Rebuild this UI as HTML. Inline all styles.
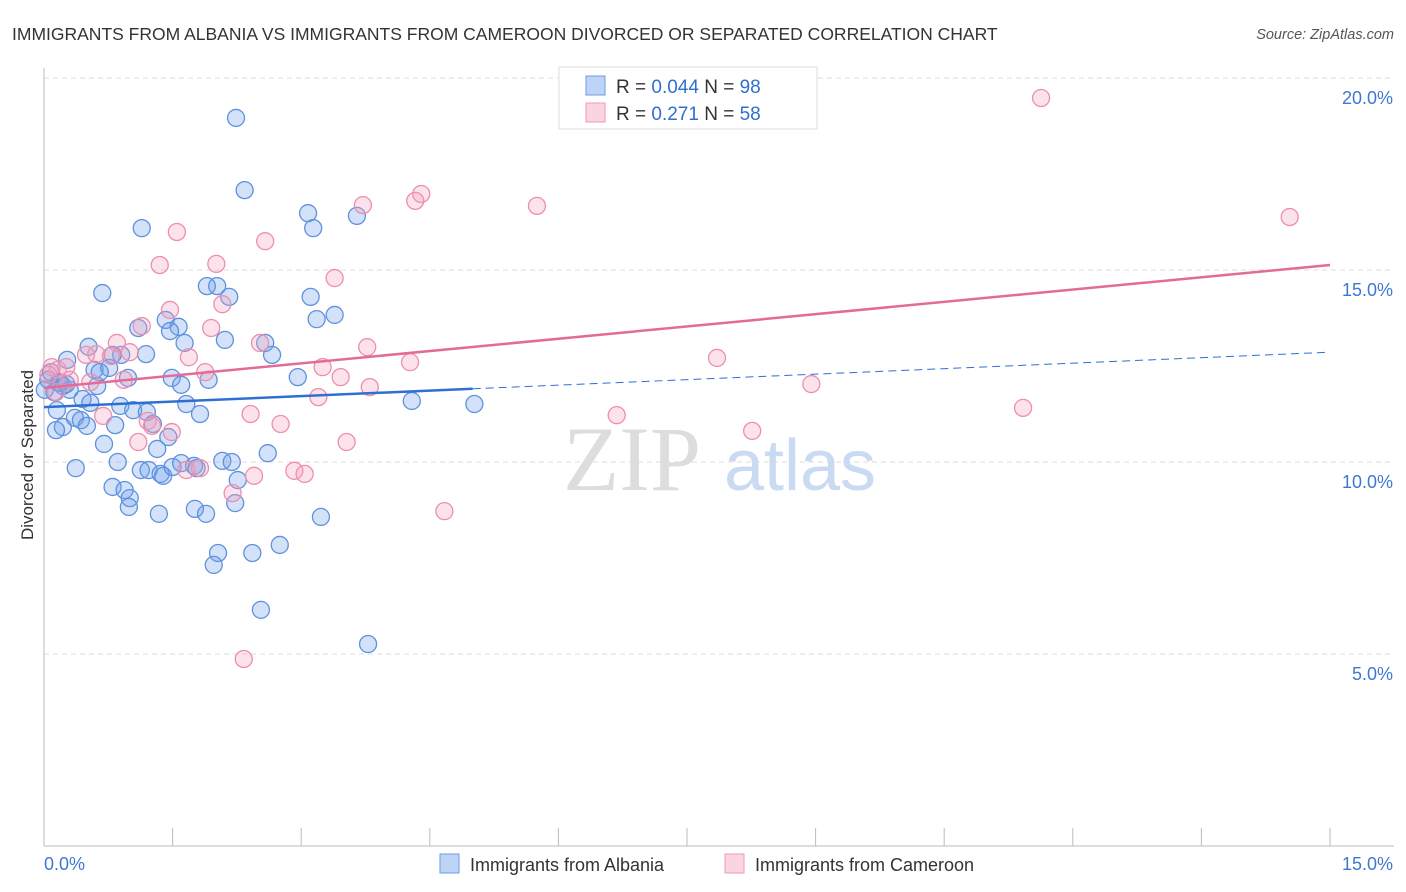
<!DOCTYPE html>
<html><head><meta charset="utf-8"><style>
body{margin:0;background:#fff;font-family:"Liberation Sans",sans-serif}
svg{display:block}
</style></head><body>
<svg id="chart" width="1406" height="892">
<text x="12" y="40" font-size="17.5" fill="#333">IMMIGRANTS FROM ALBANIA VS IMMIGRANTS FROM CAMEROON DIVORCED OR SEPARATED CORRELATION CHART</text>
<text x="1394" y="39" font-size="14.5" fill="#555" font-style="italic" text-anchor="end">Source: ZipAtlas.com</text>
<g id="grid"></g>
<g><text x="632" y="490" font-size="92" fill="#ddd" font-family="Liberation Serif,serif" text-anchor="middle">ZIP</text><text x="800" y="490" font-size="72" fill="#c9daf2" text-anchor="middle">atlas</text></g>
<g id="axes"></g>
<g id="pts"></g>
<g id="lines"></g>
<text transform="translate(33,455) rotate(-90)" font-size="17" fill="#333" text-anchor="middle">Divorced or Separated</text>
<g>
<rect x="559" y="67" width="258" height="62" fill="#fff" stroke="#ddd"/>
<rect x="586" y="76" width="19" height="19" fill="rgba(110,160,235,0.45)" stroke="#6d9be0"/>
<rect x="586" y="103" width="19" height="19" fill="rgba(245,160,190,0.45)" stroke="#ee9ab5"/>
<text x="616" y="93" font-size="19" fill="#333">R = <tspan fill="#2f6fd0">0.044</tspan>   N = <tspan fill="#2f6fd0">98</tspan></text>
<text x="616" y="120" font-size="19" fill="#333">R =  <tspan fill="#2f6fd0">0.271</tspan>   N = <tspan fill="#2f6fd0">58</tspan></text>
</g>
<g>
<rect x="440" y="854" width="19" height="19" fill="rgba(110,160,235,0.45)" stroke="#6d9be0"/>
<text x="470" y="871" font-size="18" fill="#333">Immigrants from Albania</text>
<rect x="725" y="854" width="19" height="19" fill="rgba(245,160,190,0.45)" stroke="#ee9ab5"/>
<text x="755" y="871" font-size="18" fill="#333">Immigrants from Cameroon</text>
</g>
</svg>
<script>
const xTicks=[0,1.5,3,4.5,6,7.5,9,10.5,12,13.5,15];
const yTicks=[5,10,15,20];
const yTickLabels=["5.0%","10.0%","15.0%","20.0%"];
const xEndLabels=["0.0%","15.0%"];
const albaniaX=[2.24,2.34,1.14,3.08,3.14,3.65,0.68,1.90,2.02,2.16,3.11,3.39,3.18,1.42,1.10,1.57,1.47,1.64,2.11,2.58,2.66,0.52,1.19,0.27,0.90,0.59,0.76,0.98,1.49,1.60,1.92,2.96,0.17,0.22,0.30,0.12,0.62,0.45,0.54,4.29,5.02,0.89,1.04,1.20,1.66,1.82,0.15,0.36,0.43,0.22,0.14,0.83,0.50,1.27,1.45,0.70,1.32,2.61,0.37,0.86,1.13,1.22,1.36,1.39,1.50,1.60,1.75,1.78,2.08,2.19,0.80,0.94,1.00,0.99,2.26,1.34,1.76,1.89,2.23,3.23,2.03,1.98,2.43,2.75,2.53,3.78,0.08,0.05,0.19,0.26,0.01,0.65,0.80];
const albaniaY=[18.96,17.08,16.09,16.48,16.09,16.41,14.40,14.58,14.58,14.30,14.30,13.83,13.72,13.70,13.49,13.52,13.41,13.10,13.18,13.10,12.79,13.00,12.81,12.66,12.79,12.40,12.45,12.19,12.19,12.01,12.14,12.21,12.06,11.98,11.88,11.82,11.98,11.64,11.54,11.59,11.51,11.46,11.35,11.30,11.51,11.25,11.35,11.15,11.09,10.91,10.83,10.96,10.94,10.99,10.65,10.47,10.34,10.23,9.84,10.00,9.79,9.79,9.69,9.64,9.87,9.97,9.90,9.84,10.03,10.00,9.35,9.27,9.06,8.83,9.53,8.65,8.78,8.65,8.93,8.57,7.63,7.32,7.63,7.84,6.15,5.26,12.34,12.14,12.06,12.03,11.88,12.34,12.79];
const cameroonX=[11.63,14.53,4.40,4.33,5.75,3.72,1.55,2.58,1.35,2.01,3.39,1.47,2.08,1.14,1.95,0.85,1.00,2.52,3.77,1.69,0.49,0.78,4.27,7.85,1.88,3.25,3.46,3.80,3.20,0.93,0.54,0.30,0.16,0.09,0.05,0.14,8.95,11.42,6.68,2.41,2.76,1.21,0.69,1.26,1.49,8.26,1.10,3.53,2.92,3.04,1.66,1.82,2.45,2.20,4.67,2.33,0.26,0.61];
const cameroonY=[19.48,16.38,16.98,16.80,16.67,16.69,15.99,15.75,15.13,15.16,14.79,13.96,14.11,13.54,13.49,13.10,12.86,13.10,12.99,12.73,12.79,12.76,12.60,12.71,12.34,12.47,12.21,11.95,11.69,12.14,12.08,12.14,12.40,12.47,12.27,11.82,12.03,11.41,11.22,11.25,10.99,11.07,11.20,10.94,10.78,10.81,10.52,10.52,9.77,9.69,9.79,9.84,9.64,9.19,8.72,4.87,12.47,12.81];
const albaniaTrend=[11.43,0.0953];
const cameroonTrend=[11.93,0.2133];
const albaniaSolidEnd=5.0;

const NS="http://www.w3.org/2000/svg";
const X=v=>44+v*(1286/15);
const Y=v=>846-v*38.4;
function mk(t,a,p){const e=document.createElementNS(NS,t);for(const k in a)e.setAttribute(k,a[k]);p.appendChild(e);return e;}
const grid=document.getElementById('grid'),axes=document.getElementById('axes'),pts=document.getElementById('pts'),lines=document.getElementById('lines');
yTicks.forEach((v,i)=>{
  const l=mk('line',{x1:44,x2:1394,y1:Y(v),y2:Y(v),stroke:'#ddd','stroke-dasharray':'5,4'},grid);
  
  
  const t=mk('text',{x:1393,y:Y(v)+26,'font-size':18,fill:'#3f78d0','text-anchor':'end'},axes);
  t.textContent=yTickLabels[i];
  
  
});
mk('line',{x1:44,x2:44,y1:68,y2:846,stroke:'#bbb'},axes);
mk('line',{x1:44,x2:1394,y1:846,y2:846,stroke:'#bbb'},axes);
xTicks.forEach(v=>{
  const l=mk('line',{x1:X(v),x2:X(v),y1:828,y2:846,stroke:'#bbb'},axes);
  
  
});
const t0=mk('text',{x:44,y:870,'font-size':18,fill:'#3f78d0'},axes);t0.textContent=xEndLabels[0];


const t1=mk('text',{x:1393,y:870,'font-size':18,fill:'#3f78d0','text-anchor':'end'},axes);t1.textContent=xEndLabels[1];


function dots(xs,ys,fill,stroke,name){xs.forEach((x,i)=>{const c=mk('circle',{cx:X(x),cy:Y(ys[i]),r:8.5,fill:fill,stroke:stroke,'stroke-width':1.3},pts);
  
  });}
dots(albaniaX,albaniaY,'rgba(110,160,235,0.3)','#5f92dc','albania-point');
dots(cameroonX,cameroonY,'rgba(245,160,190,0.3)','#ec8fae','cameroon-point');
const ta=(tr,x)=>tr[0]+tr[1]*x;
const b1=mk('line',{x1:X(0),y1:Y(ta(albaniaTrend,0)),x2:X(albaniaSolidEnd),y2:Y(ta(albaniaTrend,albaniaSolidEnd)),stroke:'#2e6fd4','stroke-width':2.5},lines);


const b2=mk('line',{x1:X(albaniaSolidEnd),y1:Y(ta(albaniaTrend,albaniaSolidEnd)),x2:X(15),y2:Y(ta(albaniaTrend,15)),stroke:'#2e6fd4','stroke-width':1,'stroke-dasharray':'8,5'},lines);


const p1=mk('line',{x1:X(0),y1:Y(ta(cameroonTrend,0)),x2:X(15),y2:Y(ta(cameroonTrend,15)),stroke:'#e36b97','stroke-width':2.5},lines);


</script>
</body></html>
